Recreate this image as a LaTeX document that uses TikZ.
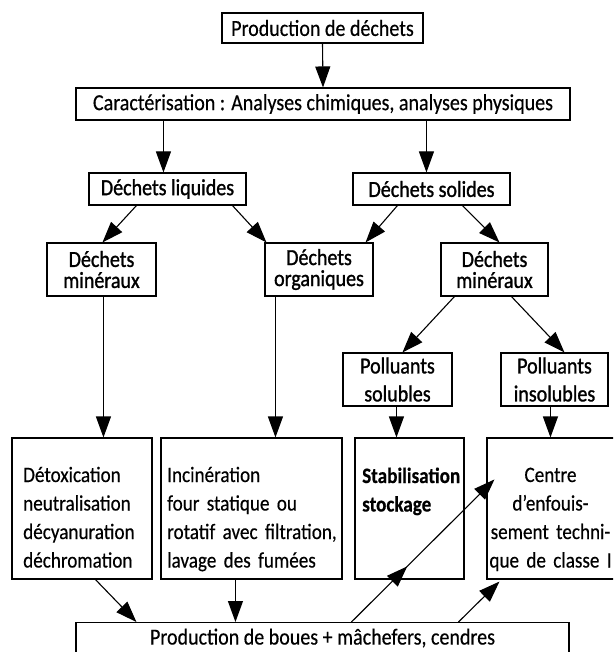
\documentclass[tikz,border=0pt]{standalone}
\usepackage{fontspec}
\setmainfont{Carlito}[FakeStretch=0.87, FakeBold=0.4]
\newfontfamily\medfont{Carlito}[FakeStretch=0.87, FakeBold=1.2]
\usetikzlibrary{arrows.meta,calc,decorations.markings}
\tikzset{
  box/.style={draw, line width=1.1pt, inner sep=0pt, font=\fontsize{23}{21}\selectfont},
  midbox/.style={box, align=center, font=\medfont\fontsize{23}{21}\selectfont},
  polbox/.style={box, align=center, font=\medfont\fontsize{23}{28}\selectfont},
  txt/.style={inner sep=0pt, font=\fontsize{22}{28.5}\selectfont, anchor=base west, align=left},
  wire/.style={line width=1.1pt, -{Triangle[length=21pt,width=15pt]}},
}
\begin{document}
\begin{tikzpicture}[x=1pt,y=-1pt]
\useasboundingbox (0,0) rectangle (613,652);
\clip (0,0) rectangle (613,652);
% level 1
\node[box, minimum width=201pt, minimum height=30pt] (prod) at (322.5,28) {Production de déchets};
\node[box, minimum width=494pt, minimum height=32pt] (carac) at (323,104) {Caractérisation : Analyses chimiques, analyses physiques};
% level 2
\node[midbox, minimum width=157pt, minimum height=32pt] (liq) at (167.5,189) {Déchets liquides};
\node[midbox, minimum width=157pt, minimum height=32pt] (sol) at (431.5,189) {Déchets solides};
% level 3
\node[midbox, minimum width=109pt, minimum height=53pt] (minL) at (101.5,269.5) {Déchets\\minéraux};
\node[midbox, minimum width=108pt, minimum height=53pt] (org) at (319,269.5) {Déchets\\organiques};
\node[midbox, minimum width=107pt, minimum height=53pt] (minR) at (494.5,269.5) {Déchets\\minéraux};
% level 4
\node[polbox, minimum width=109pt, minimum height=53pt] (solu) at (397.5,379.5) {Polluants\\solubles};
\node[polbox, minimum width=107pt, minimum height=53pt] (insol) at (554.5,379.5) {Polluants\\insolubles};
% level 5 boxes
\node[box, minimum width=140pt, minimum height=141pt] (detox) at (82,508.5) {};
\node[box, minimum width=181pt, minimum height=141pt] (incin) at (251.5,508.5) {};
\node[box, minimum width=109pt, minimum height=141pt] (stab) at (409.5,508.5) {};
\node[box, minimum width=130pt, minimum height=141pt] (centre) at (552,508.5) {};
% level 5 texts
\node[txt, text width=128pt] (tdetox) at (23,482) {Détoxication\\neutralisation\\décyanuration\\déchromation};
\node[txt, text width=185pt] (tincin) at (167,482) {Incinération\\four statique ou\\rotatif avec filtration,\\lavage des fumées};
\node[txt, text width=105pt, font=\bfseries\fontsize{22}{28.5}\selectfont] (tstab) at (362,483) {Stabilisation\\stockage};
\node[txt, text width=130pt, anchor=base, align=center] (tcentre) at (550.5,482) {Centre\\d'enfouis-\\sement techni-\\que de classe I};
% bottom
\node[box, anchor=north, minimum width=493pt, text height=15pt, text depth=30pt, inner ysep=7pt] (bot) at (322.5,622) {Production de boues + mâchefers, cendres};
% connectors
\draw[wire] (prod.south) -- (carac.north);
\draw[wire] ($(carac.south west)+(88,0)$) -- ($(liq.north west)+(75,0)$);
\draw[wire] ($(carac.south west)+(351,0)$) -- ($(sol.north west)+(74,0)$);
\draw[wire] ($(liq.south west)+(48,0)$) -- ($(minL.north west)+(56,0)$);
\draw[wire] ($(liq.south west)+(144,0)$) -- ($(org.north west)+(2,0)$);
\draw[wire] ($(sol.south west)+(45,0)$) -- ($(org.north east)+(-8,0)$);
\draw[wire] ($(sol.south west)+(110,0)$) -- ($(minR.north west)+(59,0)$);
\draw[wire] ($(minR.south west)+(14,0)$) -- ($(solu.north west)+(60,0)$);
\draw[wire] ($(minR.south west)+(71,0)$) -- ($(insol.north west)+(64,0)$);
\draw[wire] ($(minL.south west)+(57,0)$) -- ($(detox.north west)+(92,0)$);
\draw[wire] ($(org.south west)+(11,0)$) -- ($(incin.north west)+(115,0)$);
\draw[wire] ($(solu.south west)+(54,0)$) -- ($(stab.north west)+(42,0)$);
\draw[wire] ($(insol.south west)+(50,0)$) -- ($(centre.north west)+(64,0)$);
\draw[wire] ($(detox.south west)+(84,0)$) -- ($(bot.north west)+(61,0)$);
\draw[wire] ($(incin.south west)+(75,0)$) -- ($(bot.north west)+(160,0)$);
\draw[wire, postaction={decorate}, decoration={markings, mark=at position 0.39 with {\arrow{Triangle[length=21pt,width=15pt]}}}]
  ($(bot.north west)+(276,0)$) -- ($(centre.north west)+(8,42)$);
\draw[wire] ($(bot.north west)+(383,0)$) -- ($(centre.south west)+(13,2)$);
\end{tikzpicture}
\end{document}
